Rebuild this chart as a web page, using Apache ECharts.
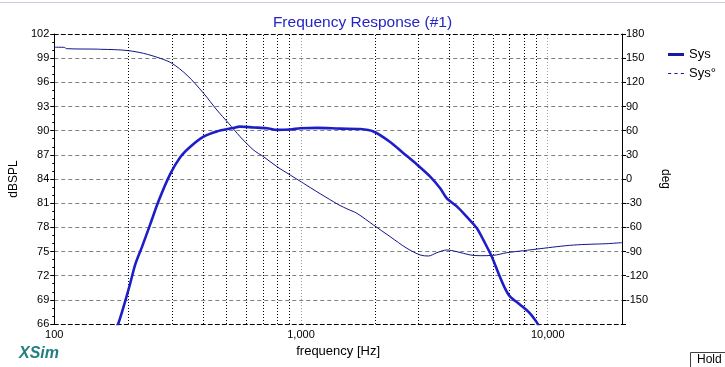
<!DOCTYPE html>
<html>
<head>
<meta charset="utf-8">
<script src="https://cdn.jsdelivr.net/npm/echarts@6/dist/echarts.min.js"></script>
<style>
html,body{margin:0;padding:0;background:#ffffff;}
#chart{width:725px;height:367px;}
</style>
</head>
<body>
<div id="chart"></div>
<script>
// ---- data ----
const splFreqHz = [178,182,191,203,213,227,245,265,295,324,356,403,456,525,567,642,728,799,904,993,1160,1442,1738,1967,2298,2602,2949,3338,3665,3900,4282,4700,5162,5490,5935,6314,6721,7041,7728,8487,9033,9300];
const splDb = [65.5,66.1,68.15,71.0,73.4,75.6,78.4,81.3,84.6,86.7,88.0,89.25,89.9,90.3,90.5,90.4,90.3,90.1,90.15,90.3,90.35,90.25,90.2,89.9,88.6,87.2,85.8,84.3,82.85,81.6,80.6,79.3,77.9,76.4,74.35,72.3,70.4,69.4,68.4,67.3,66.2,65.5];
const phaseFreqHz = [100,110,112,150,154,175,200,230,269,300,345,403,456,509,567,642,705,799,904,1023,1160,1354,1442,1535,1685,1967,2298,2686,3041,3285,3553,3900,4282,4850,5322,6026,6826,7972,9316,10887,12707,14852,17354,20000];
const phaseDeg = [163.6,163.4,161.8,161.2,161,160.6,159.3,156,149.8,143.6,129,106.4,85.7,69.1,52.5,36,27.7,15.3,5,-5.3,-15.8,-28.2,-33,-37,-42.6,-57.1,-71.6,-86,-94.3,-95.6,-91.5,-88.1,-90.2,-94.3,-95.2,-94.8,-91.5,-89,-86.5,-84,-82,-81,-80.3,-79];
const minorGridFreqHz = [200,300,400,500,600,700,800,900,2000,3000,4000,5000,6000,7000,8000,9000];
const decadeGridFreqHz = [1000,10000];
const xLabelFreqHz = [100,1000,10000];

const chart = echarts.init(document.getElementById('chart'), null, {renderer:'canvas'});
const FONT = 'Liberation Sans, Arial, sans-serif';

function xFmt(v){
  for (const t of xLabelFreqHz){ if (Math.abs(v - t) / t < 1e-6) return t.toLocaleString('en-US'); }
  return '';
}

const option = {
  animation: false,
  backgroundColor: '#ffffff',
  title: {
    text: 'Frequency Response (#1)',
    left: 'center', top: 10,
    textStyle: {color:'#2424c4', fontSize:15.5, fontWeight:'normal', fontFamily:FONT}
  },
  legend: {
    orient: 'vertical', left: 663, top: 43,
    itemWidth: 16, itemHeight: 10, itemGap: 6,
    textStyle: {color:'#000', fontSize:13, fontFamily:FONT},
    data: [
      {name:'Sys', icon:'path://M0,0 L16,0 L16,3 L0,3 Z', itemStyle:{color:'#1a1aa0'}},
      {name:'Sys°', icon:'path://M0,0 L3,0 L3,1 L0,1 Z M6,0 L9,0 L9,1 L6,1 Z M12,0 L15,0 L15,1 L12,1 Z', itemStyle:{color:'#1a1aa0'}}
    ]
  },
  grid: {left:54, right:103, top:34, bottom:43, containLabel:false},
  xAxis: [{
    type:'log', logBase:10, min:100, max:20000,
    name:'frequency [Hz]', nameLocation:'middle', nameGap:19,
    nameTextStyle:{color:'#000', fontSize:13, fontFamily:FONT},
    axisLine:{show:true, onZero:false, lineStyle:{color:'#000', type:[4,3], width:1}},
    axisTick:{show:false},
    axisLabel:{color:'#000', fontSize:11, fontFamily:FONT, margin:5, formatter:xFmt, showMinLabel:true, showMaxLabel:true},
    splitLine:{show:false}
  },{
    type:'log', logBase:10, min:100, max:20000, position:'top',
    axisLine:{show:true, onZero:false, lineStyle:{color:'#000', type:[4,3], width:1}},
    axisTick:{show:false}, axisLabel:{show:false}, splitLine:{show:false}
  }],
  yAxis: [{
    type:'value', min:66, max:102, interval:3, position:'left',
    name:'dBSPL', nameLocation:'middle', nameGap:30, nameRotate:90,
    nameTextStyle:{color:'#000', fontSize:12, fontFamily:FONT},
    axisLine:{show:true, lineStyle:{color:'#000', width:1}},
    axisTick:{show:true, length:4, lineStyle:{color:'#000'}},
    minorTick:{show:true, splitNumber:3, length:2, lineStyle:{color:'#000'}},
    axisLabel:{color:'#000', fontSize:11, fontFamily:FONT, margin:5},
    splitLine:{show:true, lineStyle:{color:'#808080', type:[4,3], width:1}}
  },{
    type:'value', min:-180, max:180, interval:30, position:'right',
    name:'deg', nameLocation:'middle', nameGap:29, nameRotate:-90,
    nameTextStyle:{color:'#000', fontSize:12, fontFamily:FONT},
    axisLine:{show:true, lineStyle:{color:'#000', width:1}},
    axisTick:{show:true, length:4, lineStyle:{color:'#000'}},
    axisLabel:{color:'#000', fontSize:11, fontFamily:FONT, margin:4,
      formatter: v => (v === -180 ? '' : String(v))},
    splitLine:{show:false}
  }],
  series: [{
    name:'Sys', type:'line', xAxisIndex:0, yAxisIndex:0,
    data: splFreqHz.map((f,i)=>[f, splDb[i]]),
    showSymbol:false, symbol:'none', smooth:0.3, clip:true,
    lineStyle:{color:'#1e1ec8', width:2.6},
    itemStyle:{color:'#1e1ec8'},
    z:5
  },{
    name:'Sys°', type:'line', xAxisIndex:0, yAxisIndex:1,
    data: phaseFreqHz.map((f,i)=>[f, phaseDeg[i]]),
    showSymbol:false, symbol:'none', smooth:0.3, clip:true,
    lineStyle:{color:'#12128c', width:1},
    itemStyle:{color:'#12128c'},
    z:4,
    markLine:{
      silent:true, symbol:['none','none'], animation:false,
      label:{show:false},
      data: minorGridFreqHz.map(f=>({xAxis:f, lineStyle:{color:'#000', type:[1,2], width:1}}))
        .concat(decadeGridFreqHz.map(f=>({xAxis:f, lineStyle:{color:'#9a9a9a', type:[1,2], width:1}})))
    }
  }],
  graphic: [
    {type:'rect', left:0, top:2, shape:{width:725, height:1}, style:{fill:'#c8ccd8'}, silent:true},
    {type:'text', left:19, top:346, style:{text:'XSim', fill:'#24807e', font:'italic bold 16px '+FONT}, silent:true},
    {type:'rect', left:690, top:352, shape:{width:40, height:18}, style:{fill:'#ffffff', stroke:'#404040', lineWidth:1}, silent:true},
    {type:'text', left:697, top:354, style:{text:'Hold', fill:'#000', font:'12px '+FONT}, silent:true}
  ]
};
chart.setOption(option);
</script>
</body>
</html>
